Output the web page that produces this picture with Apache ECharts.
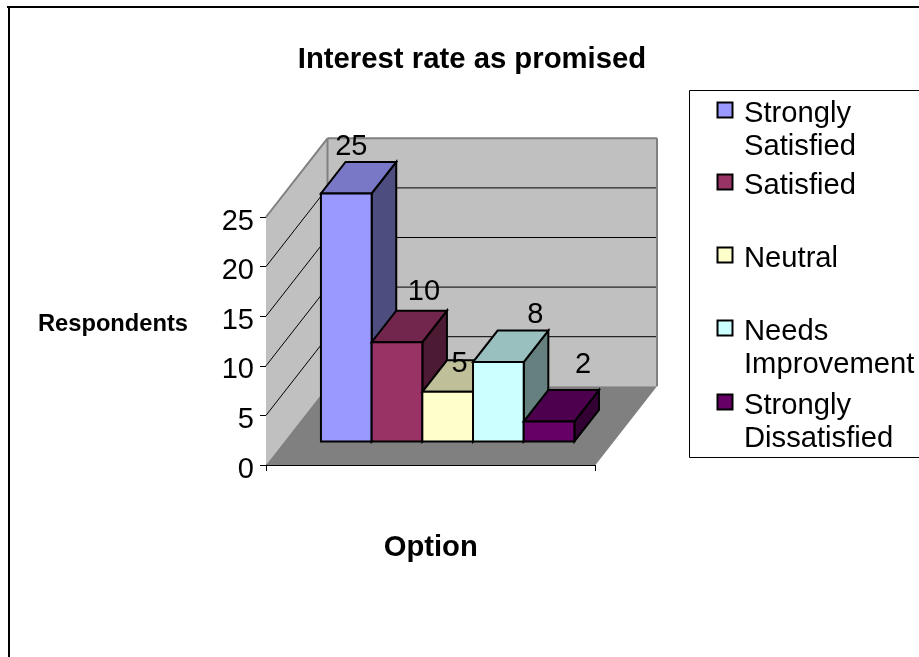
<!DOCTYPE html>
<html>
<head>
<meta charset="utf-8">
<style>html,body{margin:0;padding:0;background:#fff}#chart{width:919px;height:657px}</style>
<script src="https://cdn.jsdelivr.net/npm/echarts@6/dist/echarts.min.js"></script>
</head>
<body>
<div id="chart"></div>
<script>
var titleText = 'Interest rate as promised';
var xAxisName = 'Option';
var yAxisName = 'Respondents';
var options = ['Strongly\nSatisfied', 'Satisfied', 'Neutral', 'Needs\nImprovement', 'Strongly\nDissatisfied'];
var respondents = [25, 10, 5, 8, 2];
var frontColors = ['#9999FF', '#993366', '#FFFFCC', '#CCFFFF', '#660066'];
var topColors = ['#7878C6', '#73264D', '#BFBF99', '#99BFBF', '#4D004D'];
var sideColors = ['#4D4D80', '#4D1A33', '#808066', '#668080', '#330033'];
var yTicks = [0, 5, 10, 15, 20, 25];
var labelNudge = [[5, -32], [27, -36], [12, -13], [37, -33], [34, -42]];
var legendIconTop = [102, 174, 247, 320, 394];

var FONT = '"Liberation Sans", Arial, sans-serif';
var DEPTH = [61.5, -78.7];       // full depth of the chart box, pixels
var BAR_FRONT = 0.30, BAR_BACK = 0.70;
var BAR_START = 0.72;            // axis units before the first bar

function shift(p, d) { return [p[0] + DEPTH[0] * d, p[1] + DEPTH[1] * d]; }
function poly(pts, fill, stroke, w) {
  return { type: 'polygon', shape: { points: pts }, style: { fill: fill, stroke: stroke || null, lineWidth: w || 0, lineJoin: 'miter' } };
}
function line(a, b, color, w) {
  return { type: 'line', shape: { x1: a[0], y1: a[1], x2: b[0], y2: b[1] }, style: { stroke: color, lineWidth: w } };
}

function renderFrame(params, api) {
  var xMax = 6.5, yMax = yTicks[yTicks.length - 1];
  var o = api.coord([0, 0]), r = api.coord([xMax, 0]), t = api.coord([0, yMax]);
  var c = [];
  c.push(poly([o, t, shift(t, 1), shift(o, 1)], '#C0C0C0'));
  c.push(poly([shift(o, 1), shift(t, 1), shift(api.coord([xMax, yMax]), 1), shift(r, 1)], '#C0C0C0'));
  c.push(poly([o, r, shift(r, 1), shift(o, 1)], '#808080'));
  yTicks.forEach(function (v) {
    if (v === 0) return;
    var a = api.coord([0, v]), b = shift(a, 1), e = shift(api.coord([xMax, v]), 1);
    if (v === yMax) {
      c.push(line(a, b, '#808080', 2));
      c.push(line(b, e, '#808080', 2));
    } else {
      c.push(line(a, b, '#000', 1));
      c.push(line(b, e, '#000', 1));
    }
  });
  c.push(line(shift(o, 1), shift(t, 1), '#808080', 2));
  c.push(line(shift(r, 1), shift(api.coord([xMax, yMax]), 1), '#808080', 2));
  return { type: 'group', children: c };
}

function renderBar(params, api) {
  var i = api.value(0), v = api.value(1), k = params.seriesIndex - 1;
  var x0 = i + BAR_START, x1 = x0 + 1;
  var bl = api.coord([x0, 0]), br = api.coord([x1, 0]), tl = api.coord([x0, v]), tr = api.coord([x1, v]);
  var f = function (p) { return shift(p, BAR_FRONT); }, b = function (p) { return shift(p, BAR_BACK); };
  var s = '#000', w = 2;
  var mid = [(f(tl)[0] + f(tr)[0]) / 2, f(tl)[1]];
  return {
    type: 'group',
    children: [
      poly([f(tr), f(br), b(br), b(tr)], sideColors[k], s, w),
      poly([f(tl), f(tr), b(tr), b(tl)], topColors[k], s, w),
      poly([f(bl), f(tl), f(tr), f(br)], frontColors[k], s, w),
      { type: 'text', z2: 10, style: {
        text: String(v), x: mid[0] + labelNudge[k][0], y: mid[1] + labelNudge[k][1],
        fill: '#000', font: '29px ' + FONT, align: 'center', verticalAlign: 'bottom'
      } }
    ]
  };
}

var series = [{
  type: 'custom', name: 'frame', silent: true, renderItem: renderFrame, data: [[0, 0]], clip: false
}];
options.forEach(function (name, i) {
  series.push({
    type: 'custom', name: name.replace('\n', ' '), silent: true, clip: false, renderItem: renderBar,
    data: [[i, respondents[i]]]
  });
});

var legendEls = [{
  type: 'rect', shape: { x: 689.5, y: 90.5, width: 260, height: 367 },
  style: { fill: '#fff', stroke: '#000', lineWidth: 1 }
}];
options.forEach(function (name, i) {
  legendEls.push({
    type: 'rect', shape: { x: 717.5, y: legendIconTop[i] + 0.5, width: 15, height: 15 },
    style: { fill: frontColors[i], stroke: '#000', lineWidth: 2 }
  });
  legendEls.push({
    type: 'text', x: 744, y: legendIconTop[i] - 5,
    style: { text: name, fill: '#000', font: '29.2px ' + FONT, lineHeight: 33.5, align: 'left', verticalAlign: 'top' }
  });
});

var chart = echarts.init(document.getElementById('chart'), null, { renderer: 'canvas' });
chart.setOption({
  animation: false,
  backgroundColor: '#fff',
  title: {
    text: titleText, left: 467, top: 40, textAlign: 'center',
    textStyle: { fontFamily: FONT, fontSize: 29.3, fontWeight: 'bold', color: '#000' }
  },
  grid: { left: 266, top: 217, width: 329.5, height: 248, containLabel: false, outerBoundsMode: 'none' },
  xAxis: {
    type: 'value', min: 0, max: 6.5, interval: 6.5,
    name: xAxisName, nameLocation: 'middle', nameGap: 68,
    nameTextStyle: { fontFamily: FONT, fontSize: 29.2, fontWeight: 'bold', color: '#000' },
    axisLine: { show: true, lineStyle: { color: '#000', width: 1 } },
    axisTick: { show: true, length: 6, lineStyle: { color: '#000' } },
    axisLabel: { show: false }, splitLine: { show: false }
  },
  yAxis: {
    type: 'value', min: 0, max: 25, interval: 5,
    name: yAxisName, nameLocation: 'middle', nameGap: 78, nameRotate: 0,
    nameTextStyle: { fontFamily: FONT, fontSize: 23.7, fontWeight: 'bold', color: '#000', verticalAlign: 'bottom', padding: [0, 0, 5, 0] },
    axisLine: { show: true, lineStyle: { color: '#000', width: 1 } },
    axisTick: { show: true, length: 6, lineStyle: { color: '#000' } },
    axisLabel: { fontFamily: FONT, fontSize: 29, color: '#000', margin: 12, verticalAlign: 'top', lineHeight: 9 },
    splitLine: { show: false }
  },
  series: series,
  graphic: { elements: legendEls.concat([
    { type: 'line', shape: { x1: 7, y1: 7, x2: 925, y2: 7 }, style: { stroke: '#000', lineWidth: 2 } },
    { type: 'line', shape: { x1: 9, y1: 6, x2: 9, y2: 660 }, style: { stroke: '#000', lineWidth: 2 } }
  ]) }
});
</script>
</body>
</html>
